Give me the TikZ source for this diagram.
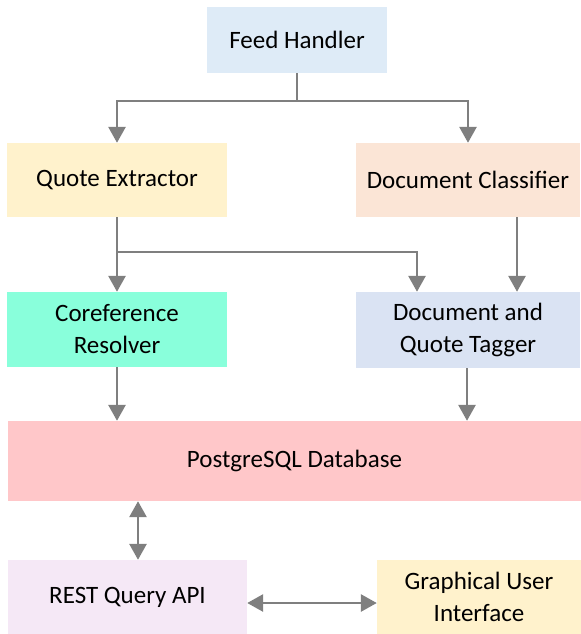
\documentclass[tikz,border=0pt]{standalone}
\usepackage{fontspec}
\setmainfont{Carlito}
\usetikzlibrary{arrows.meta}
\definecolor{feedblue}{HTML}{DEEBF7}
\definecolor{quoteyellow}{HTML}{FFF2CC}
\definecolor{classpeach}{HTML}{FBE5D6}
\definecolor{corefgreen}{HTML}{89FFDB}
\definecolor{taggerblue}{HTML}{DAE3F3}
\definecolor{dbpink}{HTML}{FFC7C9}
\definecolor{restlilac}{HTML}{F5E8F6}
\definecolor{arrowgray}{HTML}{7F7F7F}
\begin{document}
\begin{tikzpicture}[x=1bp,y=-1bp,
  box/.style={inner sep=0pt,align=center,
    font=\fontsize{25bp}{32bp}\selectfont},
  flow/.style={draw=arrowgray,line width=2.8bp,
    -{Triangle[width=17bp,length=16bp]}},
  flowboth/.style={flow,{Triangle[width=17bp,length=16bp]}-{Triangle[width=17bp,length=16bp]}}]
 \useasboundingbox (0,0) rectangle (581,634);
 \node[box,fill=feedblue,minimum width=180bp,minimum height=66bp] (feed) at (297,40) {Feed Handler};
 \node[box,fill=quoteyellow,minimum width=219bp,minimum height=74bp] (quote) at (117,180) {Quote Extractor};
 \node[box,fill=classpeach,minimum width=224bp,minimum height=74bp] (classifier) at (468,180) {Document Classifier};
 \node[box,fill=corefgreen,minimum width=219bp,minimum height=75bp] (coref) at (117,329.5) {Coreference\\Resolver};
 \node[box,fill=taggerblue,minimum width=224bp,minimum height=76bp] (tagger) at (468,330) {Document and\\Quote Tagger};
 \node[box,fill=dbpink,minimum width=573bp,minimum height=80bp] (db) at (294.5,461) {PostgreSQL Database};
 \node[box,fill=restlilac,minimum width=239bp,minimum height=74bp] (rest) at (127.5,597) {REST Query API};
 \node[box,fill=quoteyellow,minimum width=204bp,minimum height=74bp] (gui) at (479,597) {Graphical User\\Interface};
 \coordinate (feedfork) at (297,101);
 \coordinate (quotefork) at (117,252);
 \draw[flow] (feed.south) -- (feedfork) -| (quote.north);
 \draw[flow] (feedfork) -| (classifier.north);
 \draw[flow] (quote.south) -- (coref.north);
 \draw[flow] (quotefork) -| ([xshift=-51bp]tagger.north);
 \draw[flow] ([xshift=49bp]classifier.south) -- ([xshift=49bp]tagger.north);
 \draw[flow] (coref.south) -- (coref.south |- db.north);
 \draw[flow] ([xshift=-1bp]tagger.south) -- ([xshift=-1bp]tagger.south |- db.north);
 \draw[flowboth] ([xshift=10.5bp]rest.north) -- ([xshift=10.5bp]rest.north |- db.south);
 \draw[flowboth] ([yshift=-6bp]rest.east) -- ([yshift=-6bp]rest.east -| gui.west);
\end{tikzpicture}
\end{document}
